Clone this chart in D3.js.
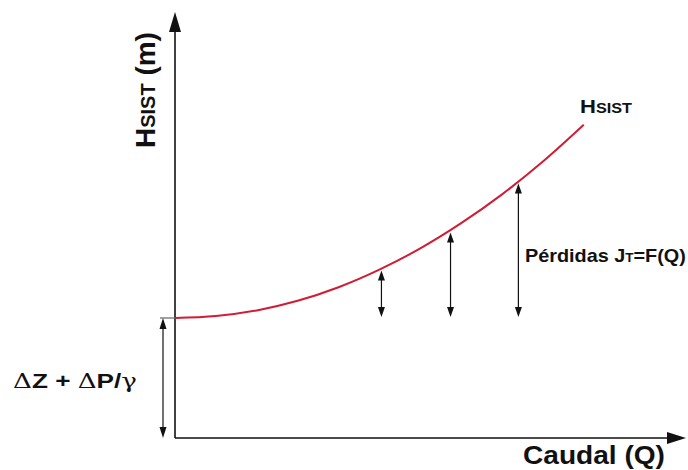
<!DOCTYPE html>
<html><head><meta charset="utf-8">
<script src="https://cdn.jsdelivr.net/npm/d3@7"></script>
<style>
  body { margin: 0; background: #fff; }
  svg { display: block; }
  text { font-family: "Liberation Sans", Arial, sans-serif; font-weight: bold; fill: #111; }
</style>
</head><body>
<svg id="chart" width="688" height="470"></svg>
<script>
// System head curve H = f(Q)
const flowQ = [0, 1, 2, 3, 4, 5, 6, 7, 8, 9, 10];
const headH = [3.00, 3.05, 3.19, 3.43, 3.77, 4.21, 4.74, 5.37, 6.09, 6.91, 7.83];
// Static head (ΔZ + ΔP/γ)
const staticHead = 3.0;
// Friction-loss markers: flow and head on the curve
const lossQ = [5.05, 6.74, 8.4];
const lossH = [4.24, 5.19, 6.41];
// Axis extents
const qMax = 12.5;
const hMax = 10.65;

const svg = d3.select("#chart");
const x = d3.scaleLinear().domain([0, qMax]).range([175, 686]);
const y = d3.scaleLinear().domain([0, hMax]).range([438, 12]);

const ink = "#111";

function arrowHead(g, tx, ty, dir, len, half) {
  // dir: unit vector pointing toward the tip
  const [dx, dy] = dir;
  const bx = tx - dx * len, by = ty - dy * len;
  const px = -dy * half, py = dx * half;
  g.append("path")
    .attr("d", `M${tx},${ty}L${bx + px},${by + py}L${bx - px},${by - py}Z`)
    .attr("fill", ink);
}

const axes = svg.append("g");
// vertical axis
axes.append("line")
  .attr("x1", x(0)).attr("x2", x(0))
  .attr("y1", y(0)).attr("y2", y(hMax) + 12)
  .attr("stroke", ink).attr("stroke-width", 1.6);
arrowHead(axes, x(0), y(hMax), [0, -1], 20, 6);
// horizontal axis
axes.append("line")
  .attr("x1", x(0)).attr("x2", x(qMax) - 12)
  .attr("y1", y(0)).attr("y2", y(0))
  .attr("stroke", ink).attr("stroke-width", 1.6);
arrowHead(axes, x(qMax), y(0), [1, 0], 19, 6);

// static head marker
const sh = svg.append("g");
sh.append("line")
  .attr("x1", x(0) - 15).attr("x2", x(0))
  .attr("y1", y(staticHead)).attr("y2", y(staticHead))
  .attr("stroke", "#666").attr("stroke-width", 1.2);
const lx = x(0) - 12;
sh.append("line")
  .attr("x1", lx).attr("x2", lx)
  .attr("y1", y(staticHead) + 8).attr("y2", y(0) - 8)
  .attr("stroke", ink).attr("stroke-width", 1.2);
arrowHead(sh, lx, y(staticHead), [0, -1], 11, 3.5);
arrowHead(sh, lx, y(0), [0, 1], 11, 3.5);

// loss arrows
const la = svg.append("g");
lossQ.forEach((q, i) => {
  const top = y(lossH[i]) + 2, bot = y(staticHead) - 1;
  la.append("line")
    .attr("x1", x(q)).attr("x2", x(q))
    .attr("y1", top + 8).attr("y2", bot - 8)
    .attr("stroke", ink).attr("stroke-width", 1.2);
  arrowHead(la, x(q), top, [0, -1], 10, 3.5);
  arrowHead(la, x(q), bot, [0, 1], 10, 3.5);
});

// system curve
const line = d3.line()
  .x((d, i) => x(flowQ[i]))
  .y(d => y(d))
  .curve(d3.curveMonotoneX);
svg.append("path")
  .datum(headH)
  .attr("d", line)
  .attr("fill", "none")
  .attr("stroke", "#d01c34")
  .attr("stroke-width", 2);

// labels
function fit(t, w) {
  const n = t.node().getComputedTextLength();
  return w / n;
}

function label(parts, tx, ty, width, rotate) {
  const t = svg.append("text");
  parts.forEach(p => {
    const s = t.append("tspan").text(p.t).attr("font-size", p.s);
    if (p.f) s.style("font-family", p.f).style("font-weight", p.w || "bold");
  });
  const k = fit(t, width);
  t.attr("transform", `translate(${tx},${ty})${rotate ? " rotate(-90)" : ""} scale(${k},1)`)
    .attr("text-anchor", "start");
  return t;
}

label([{t: "H", s: 28}, {t: "SIST", s: 20}, {t: " (m)", s: 28}], 155, 148, 116, true);
label([{t: "H", s: 19}, {t: "SIST", s: 14}], 580, 113, 52);
label([{t: "Pérdidas J", s: 19}, {t: "T", s: 13}, {t: "=F(Q)", s: 19}], 525, 262, 161);
label([
  {t: "\u0394", s: 21, f: "'DejaVu Serif', serif", w: "normal"},
  {t: "Z + ", s: 21},
  {t: "\u0394", s: 21, f: "'DejaVu Serif', serif", w: "normal"},
  {t: "P/", s: 21},
  {t: "\u03B3", s: 21, f: "'DejaVu Serif', serif", w: "normal"}
], 13, 388, 124);
label([{t: "Caudal (Q)", s: 25}], 523, 464, 142);
</script>
</body></html>
